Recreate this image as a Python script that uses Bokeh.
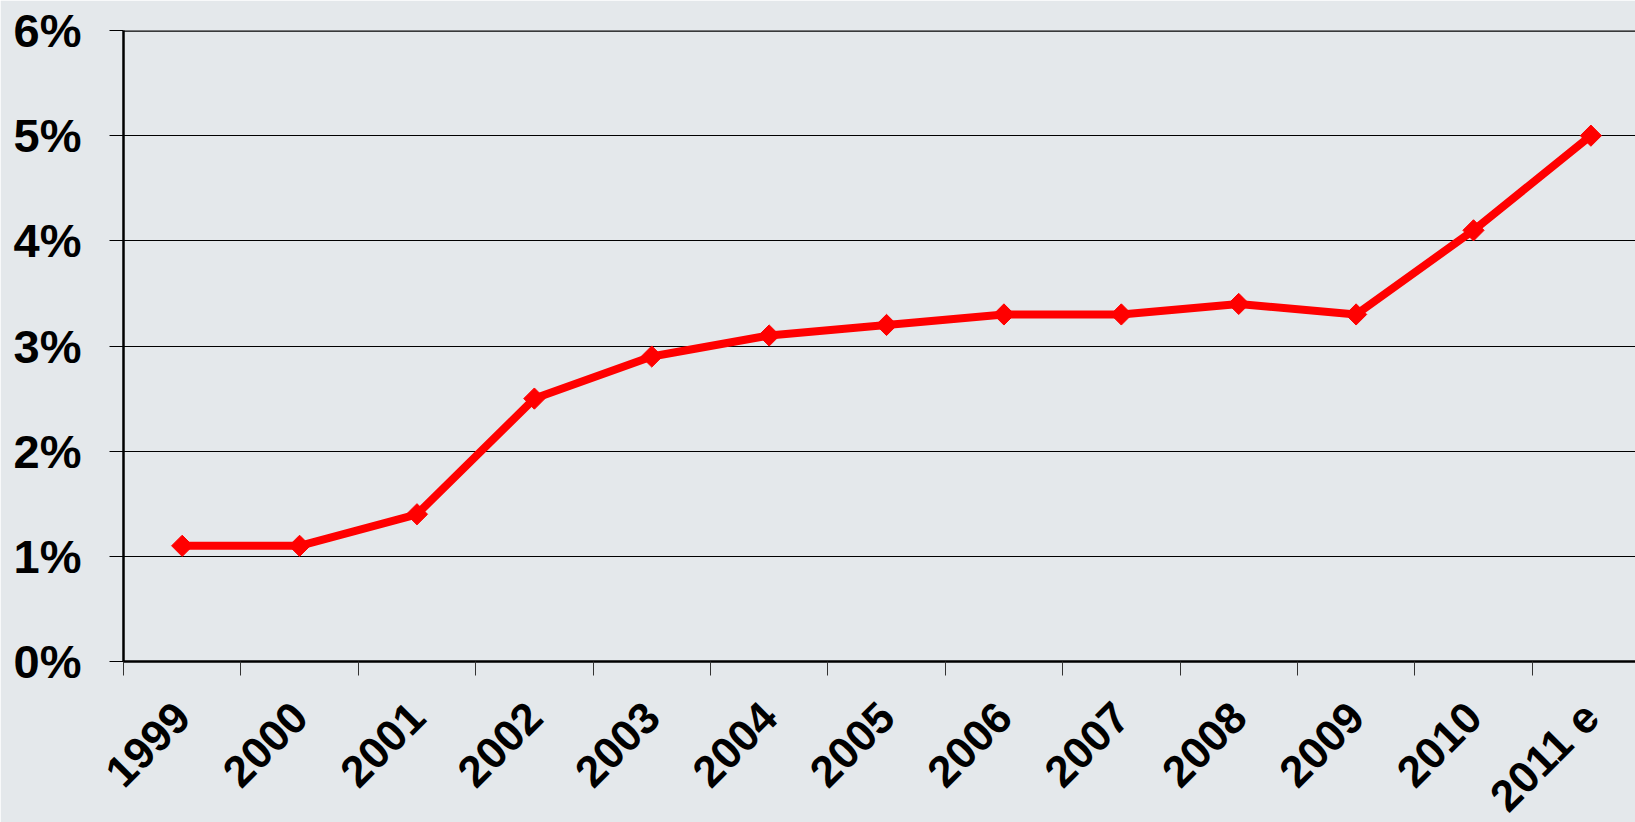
import math
from bokeh.plotting import figure
from bokeh.models import FixedTicker, Range1d, Span, ColumnDataSource
from bokeh.embed import file_html
from bokeh.resources import INLINE

years = ["1999", "2000", "2001", "2002", "2003", "2004", "2005",
         "2006", "2007", "2008", "2009", "2010", "2011 e"]
share = [1.1, 1.1, 1.4, 2.5, 2.9, 3.1, 3.2, 3.3, 3.3, 3.4, 3.3, 4.1, 5.0]
y_ticks = [0, 1, 2, 3, 4, 5, 6]
y_labels = ["0%", "1%", "2%", "3%", "4%", "5%", "6%"]

xs = [i + 0.5 for i in range(len(years))]
src = ColumnDataSource(dict(x=xs, y=share, year=years))

BG = "#E4E8EB"
FONT = "Liberation Sans"

p = figure(width=1635, height=840, output_backend="svg", toolbar_location=None,
           x_range=Range1d(0, 12.88), y_range=Range1d(0, 6),
           min_border_left=123, min_border_top=30, min_border_right=0,
           min_border_bottom=179)
p.background_fill_color = BG
p.border_fill_color = BG
p.outline_line_color = None

# y axis
p.yaxis.ticker = FixedTicker(ticks=y_ticks)
p.yaxis.major_label_overrides = {t: l for t, l in zip(y_ticks, y_labels)}
p.yaxis.major_label_text_font = FONT
p.yaxis.major_label_text_font_style = "bold"
p.yaxis.major_label_text_font_size = "47px"
p.yaxis.major_label_text_color = "black"
p.yaxis.major_label_standoff = 28
p.yaxis.major_tick_out = 14
p.yaxis.major_tick_in = 0
p.yaxis.major_tick_line_color = "black"
p.yaxis.major_tick_line_width = 1
p.yaxis.minor_tick_line_color = None
p.yaxis.axis_line_color = "black"
p.yaxis.axis_line_width = 2.5

# x axis: labels at category centres, ticks at category boundaries
p.xaxis.ticker = FixedTicker(ticks=xs, minor_ticks=list(range(len(years) + 1)))
p.xaxis.major_label_overrides = {x: y for x, y in zip(xs, years)}
p.xaxis.major_label_text_font = FONT
p.xaxis.major_label_text_font_style = "bold"
p.xaxis.major_label_text_font_size = "44px"
p.xaxis.major_label_text_color = "black"
p.xaxis.major_label_orientation = math.pi / 4
p.xaxis.major_label_standoff = 34
p.xaxis.major_tick_out = 0
p.xaxis.major_tick_in = 0
p.xaxis.major_tick_line_color = None
p.xaxis.minor_tick_out = 14
p.xaxis.minor_tick_in = 0
p.xaxis.minor_tick_line_color = "#333333"
p.xaxis.minor_tick_line_width = 1
p.xaxis.axis_line_color = "black"
p.xaxis.axis_line_width = 2.5

p.xgrid.grid_line_color = None
p.ygrid.ticker = FixedTicker(ticks=y_ticks)
p.ygrid.grid_line_color = "black"
p.ygrid.grid_line_width = 1

p.add_layout(Span(location=6, dimension="width", line_color="black", line_width=2.5))

p.line("x", "y", source=src, line_color="#FF0000", line_width=8)
p.scatter("x", "y", source=src, marker="square", angle=math.pi / 4, size=15,
          fill_color="#FF0000", line_color="#FF0000")

open("out.html", "w").write(file_html(p, INLINE))
